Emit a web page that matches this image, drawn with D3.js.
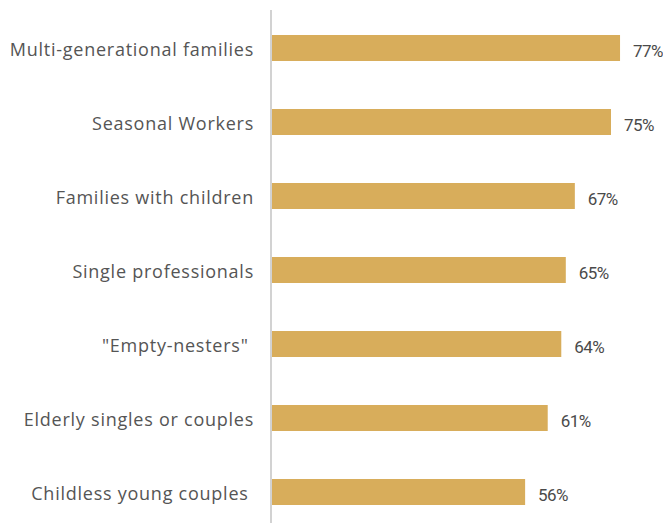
<!DOCTYPE html>
<html>
<head>
<meta charset="utf-8">
<script src="https://cdn.jsdelivr.net/npm/d3@7"></script>
<style>
  html, body { margin: 0; padding: 0; background: #fff; }
  svg { display: block; }
  text.cat { white-space: pre; }
</style>
</head>
<body>
<svg id="chart" width="663" height="523"></svg>
<script>
// Household types and the share for each
const categories = [
  "Multi-generational families",
  "Seasonal Workers",
  "Families with children",
  "Single professionals",
  "\"Empty-nesters\" ",
  "Elderly singles or couples",
  "Childless young couples "
];
const values = [77, 75, 67, 65, 64, 61, 56];
const valueLabels = ["77%", "75%", "67%", "65%", "64%", "61%", "56%"];

const svg = d3.select("#chart");
const W = 663, H = 523;
const axisX = 271;

const x = d3.scaleLinear().domain([0, 100]).range([axisX + 1, axisX + 1 + 452]);
const y = d3.scaleBand().domain(categories).range([11, 529]).paddingInner(0.6487).paddingOuter(0.3243);

// Vertical baseline
svg.append("line")
  .attr("x1", axisX).attr("x2", axisX)
  .attr("y1", 10).attr("y2", H)
  .attr("stroke", "#d2d2d2").attr("stroke-width", 2);

const rows = svg.selectAll("g.row")
  .data(categories.map((c, i) => ({ c, v: values[i], l: valueLabels[i] })))
  .join("g").attr("class", "row");

rows.append("rect")
  .attr("x", x(0))
  .attr("y", d => y(d.c))
  .attr("width", d => x(d.v) - x(0))
  .attr("height", y.bandwidth())
  .attr("fill", "#D8AD5B");

rows.append("text")
  .attr("class", "cat")
  .attr("x", axisX - 17)
  .attr("y", d => y(d.c) + y.bandwidth() / 2 + 1)
  .attr("text-anchor", "end")
  .attr("dominant-baseline", "central")
  .attr("font-family", "'Open Sans', sans-serif")
  .attr("font-size", 18)
  .attr("letter-spacing", 0.75)
  .attr("fill", "#555")
  .text(d => d.c);

rows.append("text")
  .attr("x", d => x(d.v) + 13)
  .attr("y", d => y(d.c) + y.bandwidth() / 2 + 3)
  .attr("dominant-baseline", "central")
  .attr("font-family", "Roboto, sans-serif")
  .attr("font-size", 17)
  .attr("letter-spacing", -0.6)
  .attr("fill", "#4a4a4a")
  .text(d => d.l);
</script>
</body>
</html>
